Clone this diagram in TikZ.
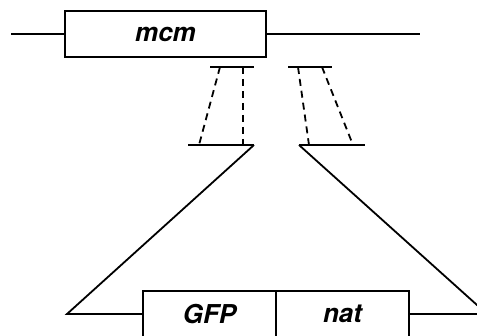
\documentclass[tikz,border=0pt]{standalone}
\usepackage{fontspec}
\setsansfont{TeX Gyre Heros}
\begin{document}
\begin{tikzpicture}[x=1pt,y=-1pt,line width=1.8pt,
  gene/.style={draw,rectangle,fill=white,minimum height=46pt,inner sep=0pt,
    font=\sffamily\bfseries\itshape\fontsize{26}{30}\selectfont},
  dsh/.style={dash pattern=on 7pt off 5pt}]
\useasboundingbox (0,0) rectangle (477,336);
\clip (0,0) rectangle (477,336);
% top gene
\coordinate (tl) at (11,34);
\coordinate (tr) at (420,34);
\node[gene,minimum width=201pt] (mcm) at (165.5,34) {mcm};
\draw (tl) -- (mcm.west);
\draw (mcm.east) -- (tr);
% upper short segments
\coordinate (a1) at (210,67); \coordinate (a2) at (254,67);
\coordinate (b1) at (288,67); \coordinate (b2) at (332,67);
\draw (a1) -- (a2);
\draw (b1) -- (b2);
% lower short segments
\coordinate (c1) at (188,145); \coordinate (c2) at (254,145);
\coordinate (d1) at (299,145); \coordinate (d2) at (365,145);
\draw (c1) -- (c2);
\draw (d1) -- (d2);
% dashed connectors
\coordinate (ua) at (220,67); \coordinate (la) at (199,145);
\coordinate (ub) at (243,67); \coordinate (lb) at (243,145);
\coordinate (uc) at (298,67); \coordinate (lc) at (309,145);
\coordinate (ud) at (322,67); \coordinate (ld) at (353,145);
\draw[dsh] (ua) -- (la);
\draw[dsh] (ub) -- (lb);
\draw[dsh] (uc) -- (lc);
\draw[dsh] (ud) -- (ld);
% bottom construct
\node[gene,minimum width=133pt] (gfp) at (209.5,314) {GFP};
\node[gene,minimum width=133pt] (nat) at (342.5,314) {nat};
\coordinate (bl) at (67,314);
\coordinate (br) at (487,314);
\draw (c2) -- (bl) -- (gfp.west);
\draw (d1) -- (br) -- (nat.east);
\end{tikzpicture}
\end{document}
